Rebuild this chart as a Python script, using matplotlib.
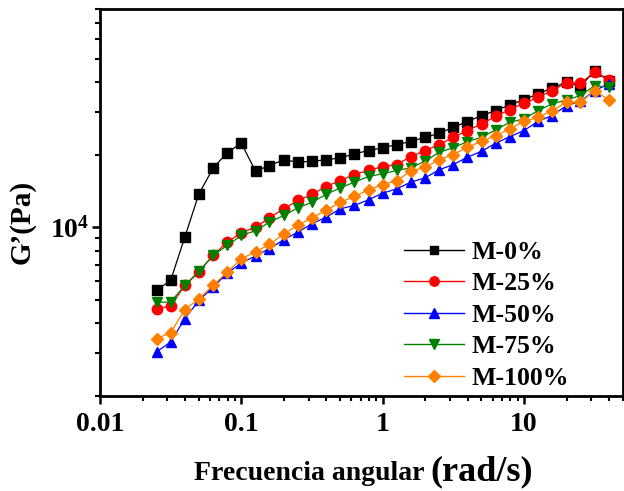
import matplotlib
matplotlib.use("Agg")
import matplotlib.pyplot as plt
from matplotlib.ticker import FixedLocator, FixedFormatter, NullFormatter, LogLocator

plt.rcParams['font.family'] = ['Liberation Serif', 'DejaVu Serif']
plt.rcParams['font.weight'] = 'bold'
plt.rcParams['mathtext.fontset'] = 'custom'
plt.rcParams['mathtext.rm'] = 'Liberation Serif:bold'
plt.rcParams['mathtext.bf'] = 'Liberation Serif:bold'
plt.rcParams['mathtext.it'] = 'Liberation Serif:bold'

freq = [0.0251, 0.0316, 0.0398, 0.0501, 0.0631, 0.0794, 0.1, 0.126, 0.158, 0.2,
        0.251, 0.316, 0.398, 0.501, 0.631, 0.794, 1.0, 1.26, 1.58, 2.0,
        2.51, 3.16, 3.98, 5.01, 6.31, 7.94, 10.0, 12.6, 15.8, 20.0,
        25.1, 31.6, 39.8]

m0 = [5470, 6015, 9090, 13750, 17550, 20390, 22280, 17050, 18010, 19020,
      18590, 18760, 19020, 19370, 20140, 20780, 21330, 22000, 22650, 23590,
      24490, 25950, 27410, 29010, 30420, 32130, 33770, 35680, 37760, 39900,
      38250, 44550, 40500]
m25 = [4590, 4710, 5735, 6510, 7640, 8670, 9480, 10000, 10940, 11920,
       12900, 13660, 14740, 15610, 16530, 17180, 17840, 18180, 19620, 20780,
       22000, 23590, 25140, 26800, 28820, 30720, 32700, 34540, 36810, 39620,
       39620, 43840, 40770]
m50 = [3040, 3340, 4175, 4970, 5640, 6450, 7100, 7600, 8140, 8870,
       9535, 10330, 11000, 11920, 12300, 12990, 13830, 14420, 15360, 16020,
       17290, 18180, 19490, 20640, 22280, 23740, 25140, 27470, 29010, 31910,
       33240, 36810, 39250]
m75 = [4890, 4890, 5735, 6560, 7640, 8400, 9240, 9660, 10490, 11180,
       12030, 12690, 13660, 14560, 15360, 16220, 16640, 17180, 17620, 18760,
       20440, 21330, 22640, 23590, 25310, 27220, 28110, 30420, 32430, 33700,
       35110, 38620, 38000]
m100 = [3450, 3650, 4550, 5050, 5735, 6510, 7400, 7900, 8480, 9390,
        10160, 10940, 11730, 12690, 13400, 14290, 15020, 15610, 17060, 17720,
        19010, 20000, 21450, 22710, 23970, 25560, 27470, 28540, 30420, 32940,
        32940, 36810, 33700]

labels = ['M-0%', 'M-25%', 'M-50%', 'M-75%', 'M-100%']
series = [m0, m25, m50, m75, m100]
colors = ['#000000', '#FF0000', '#0000FF', '#008000', '#FF8000']
markers = ['s', 'o', '^', 'v', 'D']
msizes = [6.5, 7.5, 7.5, 7.5, 6.5]

xtick_vals = [0.01, 0.1, 1, 10]
xtick_labels = ['0.01', '0.1', '1', '10']
ytick_vals = [1e4]
ytick_labels = [r'$\mathbf{10^{4}}$']

fig = plt.figure(figsize=(6.24, 4.91), dpi=100)
ax = fig.add_axes([0.1603, 0.194, 0.8377, 0.787])

for y, c, m, ms, lab in zip(series, colors, markers, msizes, labels):
    ax.plot(freq, y, color=c, marker=m, markersize=ms, linewidth=0.9, label=lab)

ax.set_xscale('log')
ax.set_yscale('log')
ax.set_xlim(0.01, 50)
ax.set_ylim(2000, 80000)

ax.xaxis.set_major_locator(FixedLocator(xtick_vals))
ax.xaxis.set_major_formatter(FixedFormatter(xtick_labels))
ax.xaxis.set_minor_locator(LogLocator(base=10, subs=range(2, 10), numticks=20))
ax.xaxis.set_minor_formatter(NullFormatter())
ax.yaxis.set_major_locator(FixedLocator(ytick_vals))
ax.yaxis.set_major_formatter(FixedFormatter(ytick_labels))
ax.yaxis.set_minor_locator(LogLocator(base=10, subs=range(2, 10), numticks=20))
ax.yaxis.set_minor_formatter(NullFormatter())

for s in ax.spines.values():
    s.set_linewidth(2.0)
ax.tick_params(which='major', direction='out', length=6, width=1.8, labelsize=20, pad=6)
ax.tick_params(axis='y', which='major', pad=2)
ax.tick_params(which='minor', direction='out', length=3.5, width=1.5)
ax.tick_params(top=False, right=False, which='both')
for t in ax.get_xticklabels() + ax.get_yticklabels():
    t.set_fontweight('bold')

fig.text(0.035, 0.548, "G’(Pa)", rotation=90, fontsize=21, fontweight='bold',
         ha='center', va='center')
fig.text(0.690, 0.022, "Frecuencia angular ", fontsize=20, fontweight='bold',
         ha='right', va='baseline')
fig.text(0.690, 0.022, "(rad/s)", fontsize=26, fontweight='bold',
         ha='left', va='baseline')

leg = ax.legend(loc='lower left', bbox_to_anchor=(0.548, -0.031), frameon=False,
                prop={'family': 'Liberation Serif', 'weight': 'bold', 'size': 18.5},
                handlelength=2.3, handletextpad=0.3, labelspacing=0.33,
                borderpad=0.2, markerscale=0.9)
for line in leg.get_lines():
    line.set_linewidth(1.0)

fig.savefig('out.png', dpi=100)
